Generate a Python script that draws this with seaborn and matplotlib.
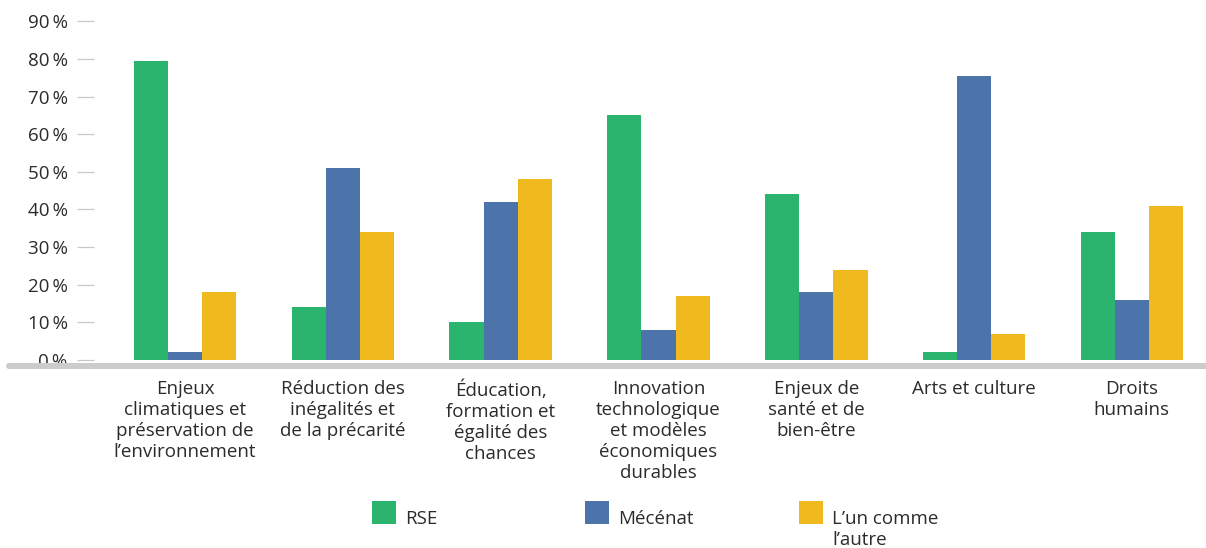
import pandas as pd
import matplotlib.pyplot as plt
import seaborn as sns

categories = [
    "Enjeux\nclimatiques et\npréservation de\nl’environnement",
    "Réduction des\ninégalités et\nde la précarité",
    "Éducation,\nformation et\négalité des\nchances",
    "Innovation\ntechnologique\net modèles\néconomiques\ndurables",
    "Enjeux de\nsanté et de\nbien-être",
    "Arts et culture",
    "Droits\nhumains",
]
series = ["RSE", "Mécénat", "L’un comme\nl’autre"]
rse = [79.5, 14, 10, 65, 44, 2, 34]
mecenat = [2, 51, 42, 8, 18, 75.5, 16]
les_deux = [18, 34, 48, 17, 24, 7, 41]
yticks = [0, 10, 20, 30, 40, 50, 60, 70, 80, 90]
colors = ["#2BB46E", "#4C74AA", "#F0B91E"]

df = pd.DataFrame({
    "cat": categories * 3,
    "serie": [series[0]] * 7 + [series[1]] * 7 + [series[2]] * 7,
    "val": rse + mecenat + les_deux,
})

sns.set_style("white")
plt.rcParams["font.family"] = ["Open Sans", "DejaVu Sans"]
txt_color = "#2b2b2b"

W, H = 1206, 548
fig = plt.figure(figsize=(W / 100, H / 100), dpi=100)
ax = fig.add_axes([94 / W, 188 / H, 1112 / W, 350 / H])

sns.barplot(data=df, x="cat", y="val", hue="serie", palette=colors,
            width=0.65, gap=0, dodge=True, ax=ax, legend=False,
            saturation=1, linewidth=0)

ax.set_xlim(-0.577, 6.47)
ax.set_ylim(0, 93)
ax.set_xlabel("")
ax.set_ylabel("")
sns.despine(ax=ax, left=True, bottom=True)

ax.set_yticks(yticks)
ax.set_yticklabels([f"{v}\u2009%" for v in yticks])
ax.tick_params(axis="y", left=True, length=12, width=0.9, color="#c8c8c8", pad=7,
               labelsize=13.5, labelcolor=txt_color)
ax.tick_params(axis="x", length=0, pad=14.5, labelsize=13.5, labelcolor=txt_color)
for lab in ax.get_xticklabels():
    lab.set_verticalalignment("top")
    lab.set_linespacing(1.22)

# gray baseline running under the bars and into the left margin
ax.axhline(-1.7, xmin=-0.076, xmax=1, color="#cccccc", linewidth=4.3, clip_on=False)

# legend drawn as squares + labels in figure pixels
x_pos = [372, 585, 799]
for i, s in enumerate(series):
    sq = plt.Rectangle((x_pos[i] / W, 1 - 524 / H), 24 / W, 23 / H,
                       transform=fig.transFigure, color=colors[i], linewidth=0)
    fig.add_artist(sq)
    for k, line in enumerate(s.split("\n")):
        fig.text((x_pos[i] + 33) / W, 1 - (524 + 21 * k) / H, line, fontsize=13.5,
                 color=txt_color, ha="left", va="baseline")

fig.savefig("out.png", dpi=100)
